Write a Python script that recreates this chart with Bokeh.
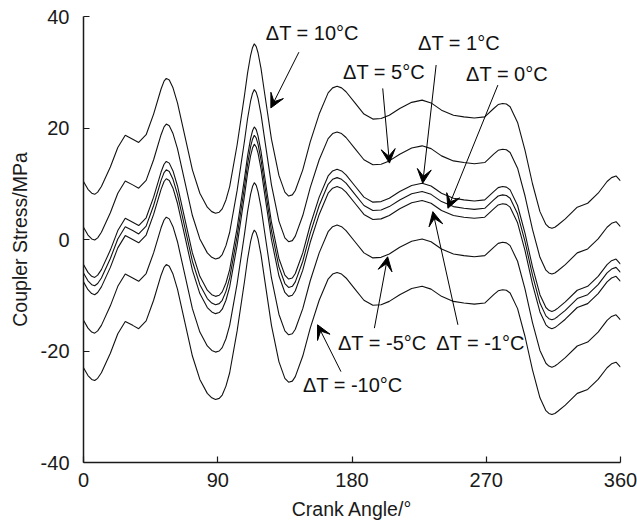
from bokeh.plotting import figure
from bokeh.models import Range1d, FixedTicker, Arrow, VeeHead, Label, ColumnDataSource
from bokeh.embed import file_html
from bokeh.resources import INLINE

# Crank angle (deg) and coupler stress for dT = 0 (MPa)
angle = [0, 3, 5.5, 7.5, 9.5, 12, 18, 23, 28, 33, 37, 42, 47, 52, 54, 55.5, 57.5, 60, 63, 68, 73, 78, 83, 86, 88.5,
         91, 93, 95.5, 98, 103, 108, 110, 112, 113.3, 114.5, 115.8, 117, 119, 121, 126, 131, 135, 137.5, 140, 142, 147,
         152, 158, 164, 167, 170, 173, 176, 182,
         188, 194, 199.5, 205, 212, 220, 227, 233, 240, 248, 255, 262, 269, 275, 278, 281, 283.5, 286, 291, 296, 301, 306,
         310, 312, 314, 316, 318, 323, 331, 338, 345, 351, 354, 357, 360]
stress_dT0 = [-6.0, -7.4, -8.1, -8.3, -7.9, -6.9, -3.4, 0.1, 2.3, 1.6, 1.0, 2.4, 6.1, 10.6, 12.0, 12.5, 12.2, 10.8, 8.1, 2.1, -3.9, -8.1, -10.6, -11.4, -11.7,
              -11.5, -10.9, -9.3, -6.9, 0.6, 9.6, 13.5, 16.6, 18.0, 18.7, 18.2, 17.1, 14.3, 10.6, 1.6, -4.9, -7.9, -8.6, -8.4, -7.6, -3.9,
              1.1, 6.1, 9.9, 10.8, 11.1, 10.8, 10.1, 8.1,
              6.1, 5.2, 5.3, 5.9, 7.1, 8.2, 8.6, 8.1, 6.8, 5.9, 5.6, 5.4, 5.6, 7.1, 7.8, 8.0, 7.9, 7.4, 4.6, -0.4, -6.4, -11.4,
              -13.7, -14.2, -14.4, -14.2, -13.8, -12.7, -10.6, -9.9, -8.1, -6.0, -5.3, -5.0, -5.9]

# Temperature differences and the stress shift (MPa) read for each curve
delta_T = [10, 5, 1, 0, -1, -5, -10]
stress_shift = [16.4, 8.2, 1.5, 0.0, -1.6, -8.5, -17.0]

# Annotations
ann_text = ["\u0394T = 10\u00b0C", "\u0394T = 5\u00b0C", "\u0394T = 1\u00b0C", "\u0394T = 0\u00b0C",
            "\u0394T = -5\u00b0C", "\u0394T = -1\u00b0C", "\u0394T = -10\u00b0C"]
ann_text_x = [122.2, 174.0, 224.3, 256.5, 170.6, 236.4, 147.1]
ann_text_y = [37.0, 30.0, 35.3, 29.7, -18.6, -18.6, -26.1]
arrow_tail_x = [144.4, 200.6, 236.4, 277.8, 195.0, 251.0, 172.6]
arrow_tail_y = [33.6, 27.1, 31.3, 27.7, -15.9, -15.3, -23.7]
arrow_tip_x = [125.6, 205.1, 227.4, 244.3, 203.9, 234.2, 156.9]
arrow_tip_y = [23.6, 13.7, 10.1, 5.6, -3.1, 5.0, -15.3]

x_ticks = [0, 90, 180, 270, 360]
y_ticks = [-40, -20, 0, 20, 40]
y_tick_labels = ["-40", "-20", "0", "20", "40"]

FONT = "Liberation Sans"

p = figure(width=637, height=528, output_backend="svg", toolbar_location=None,
           x_range=Range1d(0, 360), y_range=Range1d(-40, 40),
           min_border_left=83, min_border_right=17, min_border_top=16, min_border_bottom=66)
p.outline_line_color = None
p.xgrid.visible = False
p.ygrid.visible = False
p.background_fill_color = "white"
p.border_fill_color = "white"

for ax in (p.xaxis[0], p.yaxis[0]):
    ax.axis_line_color = "#1a1a1a"
    ax.axis_line_width = 1.5
    ax.major_tick_in = 6
    ax.major_tick_out = 0
    ax.major_tick_line_color = "#1a1a1a"
    ax.major_tick_line_width = 1.2
    ax.minor_tick_line_color = None
    ax.major_label_text_font = FONT
    ax.major_label_text_font_size = "20px"
    ax.major_label_text_color = "#1a1a1a"
    ax.axis_label_text_font = FONT
    ax.axis_label_text_font_size = "19.5px"
    ax.axis_label_text_font_style = "normal"
    ax.axis_label_text_color = "#1a1a1a"

p.xaxis.ticker = FixedTicker(ticks=x_ticks)
p.yaxis.ticker = FixedTicker(ticks=y_ticks)
p.yaxis.major_label_overrides = {t: s for t, s in zip(y_ticks, y_tick_labels)}
p.xaxis.axis_label = "Crank Angle/\u00b0"
p.yaxis.axis_label = "Coupler Stress/MPa"
p.xaxis.major_label_standoff = 10
p.yaxis.major_label_standoff = 14
p.xaxis.axis_label_standoff = 8
p.yaxis.axis_label_standoff = 7

for dT, shift in zip(delta_T, stress_shift):
    ys = [v + shift for v in stress_dT0]
    src = ColumnDataSource(data=dict(x=angle, y=ys))
    p.line("x", "y", source=src, line_color="#111111", line_width=1.1)

for i in range(len(ann_text)):
    p.add_layout(Arrow(end=VeeHead(size=14, fill_color="black", line_color="black"),
                       x_start=arrow_tail_x[i], y_start=arrow_tail_y[i],
                       x_end=arrow_tip_x[i], y_end=arrow_tip_y[i],
                       line_color="black", line_width=1))
    p.add_layout(Label(x=ann_text_x[i], y=ann_text_y[i], text=ann_text[i],
                       text_font=FONT, text_font_size="20px", text_color="#111111",
                       text_align="left", text_baseline="middle"))

open("out.html", "w").write(file_html(p, INLINE))
